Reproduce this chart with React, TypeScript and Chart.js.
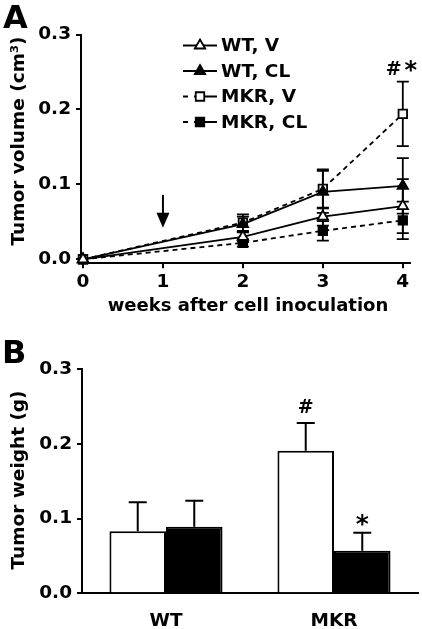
import React, { useEffect, useRef } from "react";
import { Chart, registerables } from "chart.js";

Chart.register(...registerables);

// ---------- Panel A data ----------
const weeks = [0, 2, 3, 4];
const weekTicks = [0, 1, 2, 3, 4];
const volumeTicks = [0, 0.1, 0.2, 0.3];
const seriesLabels = ["WT, V", "WT, CL", "MKR, V", "MKR, CL"];
const wtV = [0, 0.030, 0.057, 0.071];
const wtVErr = [0, 0.006, 0.012, 0.036];
const wtCL = [0, 0.047, 0.090, 0.098];
const wtCLErr = [0, 0.010, 0.028, 0.037];
const mkrV = [0, 0.049, 0.094, 0.194];
const mkrVErr = [0, 0.011, 0.026, 0.043];
const mkrCL = [0, 0.022, 0.038, 0.052];
const mkrCLErr = [0, 0.005, 0.013, 0.025];
const arrowWeek = 1;
const arrowFrom = 0.086;
const arrowTo = 0.042;
const annotationA = ["#", "*"];

// ---------- Panel B data ----------
const groups = ["WT", "MKR"];
const weightTicks = [0, 0.1, 0.2, 0.3];
const weightV = [0.083, 0.191];
const weightVErr = [0.039, 0.037];
const weightCL = [0.089, 0.057];
const weightCLErr = [0.035, 0.024];
const annotationB = [
  { dataset: 0, index: 1, text: "#" },
  { dataset: 1, index: 1, text: "*" },
];

// ---------- styling ----------
const FONT = "'DejaVu Sans', sans-serif";
const LW = 1.8;
const seriesValues = [wtV, wtCL, mkrV, mkrCL];
const seriesErrors = [wtVErr, wtCLErr, mkrVErr, mkrCLErr];
const seriesStyles = [
  { dash: [] as number[], point: "triangle", fill: "#ffffff" },
  { dash: [] as number[], point: "triangle", fill: "#000000" },
  { dash: [5, 4], point: "rect", fill: "#ffffff" },
  { dash: [5, 4], point: "rect", fill: "#000000" },
];

Chart.defaults.font.family = FONT;
Chart.defaults.color = "#000";

function text(ctx: CanvasRenderingContext2D, s: string, x: number, y: number, size: number, align: CanvasTextAlign = "center", baseline: CanvasTextBaseline = "alphabetic", rot = 0) {
  ctx.save();
  ctx.font = `bold ${size}px ${FONT}`;
  ctx.fillStyle = "#000";
  ctx.textAlign = align;
  ctx.textBaseline = baseline;
  ctx.translate(x, y);
  if (rot) ctx.rotate(rot);
  ctx.fillText(s, 0, 0);
  ctx.restore();
}

function marker(ctx: CanvasRenderingContext2D, style: string, x: number, y: number, r: number, fill: string) {
  ctx.save();
  ctx.setLineDash([]);
  ctx.beginPath();
  if (style === "triangle") {
    let rad = 0;
    ctx.moveTo(x + Math.sin(rad) * r, y - Math.cos(rad) * r);
    rad += (2 * Math.PI) / 3;
    ctx.lineTo(x + Math.sin(rad) * r, y - Math.cos(rad) * r);
    rad += (2 * Math.PI) / 3;
    ctx.lineTo(x + Math.sin(rad) * r, y - Math.cos(rad) * r);
    ctx.closePath();
  } else {
    const s = Math.SQRT1_2 * r;
    ctx.rect(x - s, y - s, 2 * s, 2 * s);
  }
  ctx.fillStyle = fill;
  ctx.fill();
  ctx.strokeStyle = "#000";
  ctx.lineWidth = LW;
  ctx.stroke();
  ctx.restore();
}

const errorBarsA = {
  id: "errorBarsA",
  beforeDatasetsDraw(chart: any) {
    const { ctx } = chart;
    const xs = chart.scales.x;
    const ys = chart.scales.y;
    ctx.save();
    ctx.strokeStyle = "#000";
    ctx.lineWidth = LW;
    ctx.setLineDash([]);
    seriesValues.forEach((vals, i) => {
      vals.forEach((v, j) => {
        const e = seriesErrors[i][j];
        if (!e) return;
        const px = xs.getPixelForValue(weeks[j]);
        const top = ys.getPixelForValue(v + e);
        const bot = ys.getPixelForValue(v - e);
        ctx.beginPath();
        ctx.moveTo(px, top);
        ctx.lineTo(px, bot);
        ctx.moveTo(px - 6, top);
        ctx.lineTo(px + 6, top);
        ctx.moveTo(px - 6, bot);
        ctx.lineTo(px + 6, bot);
        ctx.stroke();
      });
    });
    ctx.restore();
  },
};

const decorA = {
  id: "decorA",
  afterDraw(chart: any) {
    const { ctx } = chart;
    const xs = chart.scales.x;
    const ys = chart.scales.y;
    // panel letter and titles
    text(ctx, "A", 3, 28, 32, "left");
    text(ctx, "Tumor volume (cm³)", 24, 141, 18.5, "center", "alphabetic", -Math.PI / 2);
    text(ctx, "weeks after cell inoculation", 248, 311, 18);
    // legend
    seriesLabels.forEach((label, i) => {
      const y = 45.5 + i * 25.5;
      const st = seriesStyles[i];
      ctx.save();
      ctx.strokeStyle = "#000";
      ctx.lineWidth = LW;
      ctx.beginPath();
      if (st.dash.length) {
        ctx.moveTo(183, y);
        ctx.lineTo(188, y);
        ctx.moveTo(194, y);
        ctx.lineTo(217, y);
      } else {
        ctx.moveTo(183, y);
        ctx.lineTo(217, y);
      }
      ctx.stroke();
      ctx.restore();
      marker(ctx, st.point, 200, y, 6, st.fill);
      text(ctx, label, 221, y + 1, 18.5, "left", "middle");
    });
    // arrow
    const ax = xs.getPixelForValue(arrowWeek);
    const y0 = ys.getPixelForValue(arrowFrom);
    const y1 = ys.getPixelForValue(arrowTo);
    ctx.save();
    ctx.strokeStyle = "#000";
    ctx.fillStyle = "#000";
    ctx.lineWidth = 2;
    ctx.beginPath();
    ctx.moveTo(ax, y0);
    ctx.lineTo(ax, y1 - 12);
    ctx.stroke();
    ctx.beginPath();
    ctx.moveTo(ax - 6.5, y1 - 15);
    ctx.lineTo(ax + 6.5, y1 - 15);
    ctx.lineTo(ax, y1);
    ctx.closePath();
    ctx.fill();
    ctx.restore();
    // significance marks
    const last = weeks.length - 1;
    const tx = xs.getPixelForValue(weeks[last]);
    const ty = ys.getPixelForValue(mkrV[last] + mkrVErr[last]);
    text(ctx, annotationA[0], tx - 9, ty - 7, 19);
    text(ctx, annotationA[1], tx + 8, ty - 4, 24);
  },
};

const errorBarsB = {
  id: "errorBarsB",
  afterDatasetsDraw(chart: any) {
    const { ctx } = chart;
    const ys = chart.scales.y;
    const errs = [weightVErr, weightCLErr];
    const vals = [weightV, weightCL];
    ctx.save();
    ctx.strokeStyle = "#000";
    ctx.lineWidth = 2;
    errs.forEach((arr, d) => {
      const meta = chart.getDatasetMeta(d);
      arr.forEach((e, i) => {
        const bar = meta.data[i];
        const top = ys.getPixelForValue(vals[d][i] + e);
        ctx.beginPath();
        ctx.moveTo(bar.x, bar.y);
        ctx.lineTo(bar.x, top);
        ctx.moveTo(bar.x - 9, top);
        ctx.lineTo(bar.x + 9, top);
        ctx.stroke();
      });
    });
    ctx.restore();
    text(ctx, "B", 2, 43, 32, "left");
    text(ctx, "Tumor weight (g)", 24, 160, 18.5, "center", "alphabetic", -Math.PI / 2);
    annotationB.forEach((a) => {
      const bar = chart.getDatasetMeta(a.dataset).data[a.index];
      const e = (a.dataset === 0 ? weightVErr : weightCLErr)[a.index];
      const v = (a.dataset === 0 ? weightV : weightCL)[a.index];
      const top = ys.getPixelForValue(v + e);
      if (a.text === "*") text(ctx, a.text, bar.x, top - 1, 25);
      else text(ctx, a.text, bar.x, top - 10, 19);
    });
  },
};

const axisCommon = {
  grid: { display: true, drawOnChartArea: false, drawTicks: true, tickLength: 5, color: "#000", lineWidth: 2 },
  border: { display: true, color: "#000", width: 2 },
};

export default function App() {
  const refA = useRef<HTMLCanvasElement>(null);
  const refB = useRef<HTMLCanvasElement>(null);

  useEffect(() => {
    const chartA = new Chart(refA.current as HTMLCanvasElement, {
      type: "line",
      data: {
        datasets: seriesLabels.map((label, i) => ({
          label,
          data: weeks.map((w, j) => ({ x: w, y: seriesValues[i][j] })),
          borderColor: "#000",
          borderWidth: LW,
          borderDash: seriesStyles[i].dash,
          pointStyle: seriesStyles[i].point as any,
          pointRadius: 6,
          pointBackgroundColor: seriesStyles[i].fill,
          pointBorderColor: "#000",
          pointBorderWidth: LW,
          fill: false,
          tension: 0,
          clip: false as any,
        })),
      },
      options: {
        responsive: false,
        devicePixelRatio: 1,
        animation: false,
        events: [],
        layout: { padding: { left: 0, right: 12, top: 34.5, bottom: 0 } },
        plugins: { legend: { display: false }, tooltip: { enabled: false } },
        scales: {
          x: {
            type: "linear",
            min: -0.025,
            max: 4.09,
            ...axisCommon,
            afterBuildTicks: (s: any) => { s.ticks = weekTicks.map((v) => ({ value: v })); },
            afterFit: (s: any) => { s.height = 56.7; },
            ticks: { font: { size: 18.5, weight: "bold" }, padding: 3, callback: (v: any) => String(v), maxRotation: 0 },
          },
          y: {
            type: "linear",
            min: -0.0053,
            max: 0.3,
            ...axisCommon,
            afterBuildTicks: (s: any) => { s.ticks = volumeTicks.map((v) => ({ value: v })); },
            afterFit: (s: any) => { s.width = 81; },
            ticks: { font: { size: 18.5, weight: "bold" }, padding: 5, callback: (v: any) => Number(v).toFixed(1) },
          },
        },
      },
      plugins: [errorBarsA, decorA],
    });

    const chartB = new Chart(refB.current as HTMLCanvasElement, {
      type: "bar",
      data: {
        labels: groups,
        datasets: [
          { label: "V", data: weightV, backgroundColor: "#fff", borderColor: "#000", borderWidth: 2, categoryPercentage: 0.673, barPercentage: 1 },
          { label: "CL", data: weightCL, backgroundColor: "#000", borderColor: "#000", borderWidth: 2, categoryPercentage: 0.673, barPercentage: 1 },
        ],
      },
      options: {
        responsive: false,
        devicePixelRatio: 1,
        animation: false,
        events: [],
        layout: { padding: { left: 0, right: 4, top: 49.3, bottom: 0 } },
        plugins: { legend: { display: false }, tooltip: { enabled: false } },
        scales: {
          x: {
            type: "category",
            grid: { display: false },
            border: { display: true, color: "#000", width: 2 },
            afterFit: (s: any) => { s.height = 35.7; },
            ticks: { font: { size: 18.5, weight: "bold" }, padding: 9 },
          },
          y: {
            type: "linear",
            min: 0,
            max: 0.3,
            ...axisCommon,
            afterBuildTicks: (s: any) => { s.ticks = weightTicks.map((v) => ({ value: v })); },
            afterFit: (s: any) => { s.width = 82; },
            ticks: { font: { size: 18.5, weight: "bold" }, padding: 5, callback: (v: any) => Number(v).toFixed(1) },
          },
        },
      },
      plugins: [errorBarsB],
    });

    return () => {
      chartA.destroy();
      chartB.destroy();
    };
  }, []);

  return (
    <div style={{ position: "absolute", left: 0, top: 0, width: 422, height: 629, background: "#fff" }}>
      <canvas ref={refA} width={422} height={320} style={{ display: "block", width: 422, height: 320 }} />
      <canvas ref={refB} width={422} height={309} style={{ display: "block", width: 422, height: 309 }} />
    </div>
  );
}
